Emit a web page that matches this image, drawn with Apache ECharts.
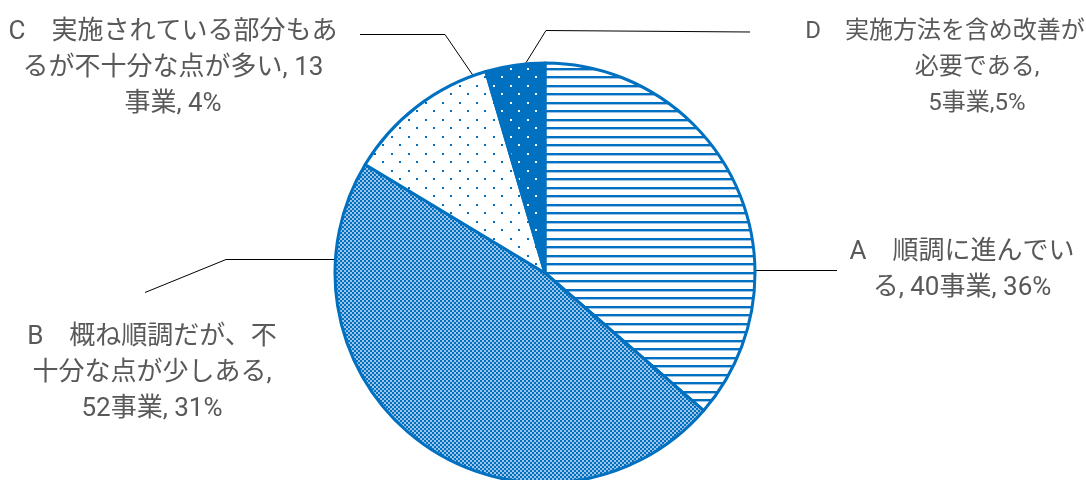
<!DOCTYPE html>
<html><head><meta charset="utf-8">
<script src="https://cdn.jsdelivr.net/npm/echarts@6/dist/echarts.min.js"></script>
<style>html,body{margin:0;padding:0;background:#fff}#c{width:1086px;height:480px}</style>
</head><body><div id="c"></div>
<script>
// ---- data ----
const categories = ['A', 'B', 'C', 'D'];
const values = [40, 52, 13, 5];
const labelTexts = [
  'A　順調に進んでい\nる, 40事業, 36%',
  'B　概ね順調だが、不\n十分な点が少しある,\n52事業, 31%',
  'C　実施されている部分もあ\nるが不十分な点が多い, 13\n事業, 4%',
  'D　実施方法を含め改善が\n必要である,\n5事業,5%'
];

// ---- layout / style ----
const BLUE = '#0070C0';
const LIGHT = '#9DC3E6';
const FONT = 'Roboto, "Noto Sans CJK JP", sans-serif';
const CX = 545, CY = 273, R = 210;
function tile(w, h, bg, fg, rects, fg2, rects2) {
  const c = document.createElement('canvas');
  c.width = w; c.height = h;
  const g = c.getContext('2d');
  g.fillStyle = bg; g.fillRect(0, 0, w, h);
  if (fg2) { g.fillStyle = fg2; rects2.forEach(r => g.fillRect(r[0], r[1], r[2], r[3])); }
  g.fillStyle = fg; rects.forEach(r => g.fillRect(r[0], r[1], r[2], r[3]));
  return c;
}
const patterns = [
  tile(8, 17, '#fff', BLUE, [[0,0,8,2],[0,8,8,2]], LIGHT, [[0,2,8,1],[0,10,8,1]]),
  tile(4, 4, '#fff', BLUE, [[0,0,2,2],[2,2,2,2]], LIGHT, [[2,0,2,2],[0,2,2,2]]),
  tile(17, 17, '#fff', BLUE, [[0,0,2,2],[8,8,2,2]]),
  tile(17, 17, BLUE, '#fff', [[0,0,2,2],[8,8,2,2]])
];
function pt(deg) { const a = deg * Math.PI / 180; return [CX + R * Math.sin(a), CY - R * Math.cos(a)]; }
const leader = [
  [[pt(90)[0], 270.5], [800, 270.5], [837, 270.5]],
  [[pt(274)[0], 259.5], [226, 259.5], [145, 292.5]],
  [pt(340), [445, 34.5], [360, 34.5]],
  [pt(354.6), [546, 30.5], [750, 32]]
];
const labelPos = [[962, 270], [152, 373], [173, 68], [945, 68]];
const labelFontSize = [26, 26, 26, 24];
const lineIndent = [0, 0, 0, 64];

const chart = echarts.init(document.getElementById('c'), null, { renderer: 'canvas' });
chart.setOption({
  backgroundColor: '#fff',
  animation: false,
  series: [{
    type: 'pie',
    center: [CX, CY],
    radius: R,
    startAngle: 90,
    clockwise: true,
    avoidLabelOverlap: false,
    itemStyle: { borderColor: BLUE, borderWidth: 3 },
    label: {
      show: true,
      position: 'outside',
      color: '#595959',
      fontSize: 26,
      lineHeight: 36,
      fontFamily: FONT,
      align: 'center',
      formatter: p => {
        const lines = labelTexts[p.dataIndex].split('\n');
        const ind = lineIndent[p.dataIndex];
        return lines.map((l, k) => (k > 0 && ind) ? '{s|' + l + '}' : l).join('\n');
      },
      rich: {
        s: { padding: [0, 0, 0, 64], color: '#595959', fontSize: 24, lineHeight: 36, fontFamily: FONT }
      }
    },
    labelLine: { show: true, length: 10, length2: 10, smooth: false, lineStyle: { color: '#000', width: 1 } },
    labelLayout: p => ({
      x: labelPos[p.dataIndex][0],
      y: labelPos[p.dataIndex][1],
      align: 'center',
      verticalAlign: 'middle',
      labelLinePoints: leader[p.dataIndex]
    }),
    emphasis: { disabled: true },
    data: categories.map((c, i) => ({
      name: c,
      value: values[i],
      label: { fontSize: labelFontSize[i] },
      itemStyle: { color: { image: patterns[i], repeat: 'repeat' } }
    }))
  }]
});
</script>
</body></html>
